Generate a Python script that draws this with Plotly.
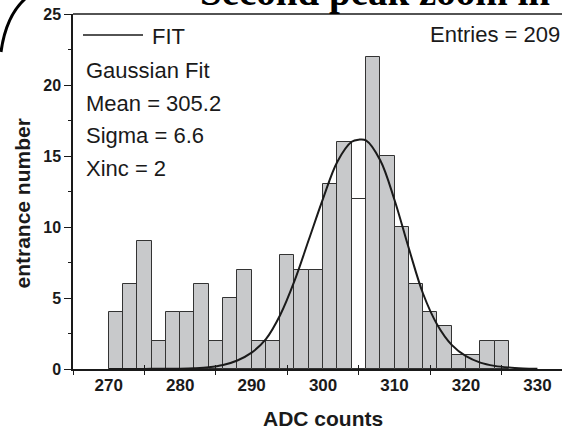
import plotly.graph_objects as go

# ---- data ----
bin_start = [270, 272, 274, 276, 278, 280, 282, 284, 286, 288, 290, 292, 294, 296,
             298, 300, 302, 304, 306, 308, 310, 312, 314, 316, 318, 320, 322, 324]
counts = [4, 6, 9, 2, 4, 4, 6, 2, 5, 7, 2, 2, 8, 7,
          7, 13, 16, 12, 22, 15, 10, 6, 4, 3, 1, 1, 2, 2]

fit_x = [270, 272, 274, 276, 278, 280, 282, 284, 286, 288, 290, 292, 294, 296, 298,
         300, 302, 304, 305, 306, 308, 310, 312, 314, 316, 318, 320, 322, 324, 326,
         328, 330]
fit_y = [0.0, 0.0, 0.0, 0.01, 0.01, 0.02, 0.05, 0.12, 0.28, 0.6, 1.15, 2.1, 3.8, 6.2,
         9.1, 12.0, 14.6, 16.0, 16.15, 16.1, 14.7, 11.9, 8.5, 5.3, 3.1, 1.7, 0.9,
         0.45, 0.22, 0.1, 0.04, 0.01]

x_ticks = [270, 280, 290, 300, 310, 320, 330]
x_marks = [265, 275, 285, 295, 305, 315, 325]
legend_lines = ["Gaussian Fit", "Mean = 305.2", "Sigma = 6.6", "Xinc = 2"]
title_text = "Second peak zoom in"
entries_text = "Entries = 209"
y_title = "entrance number"
x_title = "ADC counts"

# ---- layout geometry ----
W, H = 562, 431
ML, MR, MT, MB = 73, 0, 14, 62
PW, PH = W - ML - MR, H - MT - MB


def px(x):
    return (x - ML) / PW


def py(y):
    return (H - MB - y) / PH


SANS = "Liberation Sans, Arial, sans-serif"
bar_colors = ["white" if b == 304 else "#c8c9cb" for b in bin_start]

fig = go.Figure()
fig.add_trace(go.Bar(
    x=bin_start, y=counts, width=2, offset=0,
    marker=dict(color=bar_colors, line=dict(color="#333333", width=1)),
    showlegend=False, hoverinfo="skip",
))
fig.add_trace(go.Scatter(
    x=fit_x, y=fit_y, mode="lines", line=dict(color="#1a1a1a", width=2, shape="spline"),
    showlegend=False, hoverinfo="skip", xaxis="x", yaxis="y",
))
# helper trace on overlay axis (for the inner half of crossing ticks)
fig.add_trace(go.Scatter(x=[265], y=[0], mode="markers", marker=dict(opacity=0),
                         xaxis="x2", yaxis="y", showlegend=False, hoverinfo="skip"))

fig.update_layout(
    width=W, height=H,
    margin=dict(l=ML, r=MR, t=MT, b=MB, pad=0),
    paper_bgcolor="white", plot_bgcolor="white",
    bargap=0,
    xaxis=dict(
        range=[265, 333.44], showgrid=False, zeroline=False,
        showline=True, linecolor="#1a1a1a", linewidth=1.5,
        tickmode="array", tickvals=x_ticks, ticks="", ticklen=0,
        ticklabelstandoff=0,
        tickfont=dict(family=SANS, size=17, color="#1a1a1a", weight="bold"),
        minor=dict(tickmode="array", tickvals=x_marks, ticks="outside",
                   ticklen=4, tickwidth=1.2, tickcolor="#1a1a1a"),
    ),
    xaxis2=dict(
        range=[265, 333.44], overlaying="x", anchor="y", side="bottom",
        showgrid=False, zeroline=False, showline=False, showticklabels=False,
        tickmode="array", tickvals=x_marks, ticks="inside", ticklen=4,
        tickwidth=1.2, tickcolor="#1a1a1a",
    ),
    yaxis=dict(
        range=[0, 25], showgrid=False, zeroline=False,
        showline=True, linecolor="#1a1a1a", linewidth=1.5,
        tickmode="linear", tick0=0, dtick=5, ticks="outside", ticklen=7,
        tickwidth=1.2, tickcolor="#1a1a1a",
        tickfont=dict(family=SANS, size=16, color="#1a1a1a", weight="bold"),
        minor=dict(tickmode="linear", tick0=2.5, dtick=5, ticks="outside",
                   ticklen=3, tickwidth=1, tickcolor="#1a1a1a"),
    ),
)

shapes = [
    # top frame line
    dict(type="line", xref="paper", yref="paper", x0=0, x1=1, y0=1, y1=1,
         line=dict(color="#1a1a1a", width=1.5)),
    # legend line sample
    dict(type="line", xref="paper", yref="paper", x0=px(83), x1=px(143),
         y0=py(35), y1=py(35), line=dict(color="#1a1a1a", width=1.5)),
    # black arc at top-left corner of the scan
    dict(type="path", xref="paper", yref="paper",
         path=f"M {px(25)},{py(-1)} Q {px(6)},{py(16)} {px(1)},{py(52)}",
         line=dict(color="black", width=3)),
]

annotations = [
    dict(text="FIT", x=px(150), y=py(36.5), xref="paper", yref="paper",
         xanchor="left", yanchor="middle", showarrow=False,
         font=dict(family=SANS, size=22, color="#1a1a1a")),
    dict(text=entries_text, x=px(428), y=py(34), xref="paper", yref="paper",
         xanchor="left", yanchor="middle", showarrow=False,
         font=dict(family=SANS, size=22, color="#1a1a1a")),
    dict(text=title_text, x=px(198), y=py(-8), xref="paper", yref="paper",
         xanchor="left", yanchor="middle", showarrow=False,
         font=dict(family="Liberation Serif, Times New Roman, serif", size=39,
                   color="black", weight="bold")),
    dict(text=y_title, x=px(22), y=py(203.5), xref="paper", yref="paper",
         xanchor="center", yanchor="middle", textangle=-90, showarrow=False,
         font=dict(family=SANS, size=21, color="#1a1a1a", weight="bold")),
    dict(text=x_title, x=px(323), y=py(418.5), xref="paper", yref="paper",
         xanchor="center", yanchor="middle", showarrow=False,
         font=dict(family=SANS, size=21, color="#1a1a1a", weight="bold")),
]
for i, t in enumerate(legend_lines):
    annotations.append(dict(
        text=t, x=px(84), y=py(70.5 + 32.5 * i), xref="paper", yref="paper",
        xanchor="left", yanchor="middle", showarrow=False,
        font=dict(family=SANS, size=22, color="#1a1a1a")))

fig.update_layout(shapes=shapes, annotations=annotations)
fig.write_html(
    "out.html",
    config={"displayModeBar": False},
    post_script="document.body.style.margin='0';document.body.style.overflow='hidden';",
)
